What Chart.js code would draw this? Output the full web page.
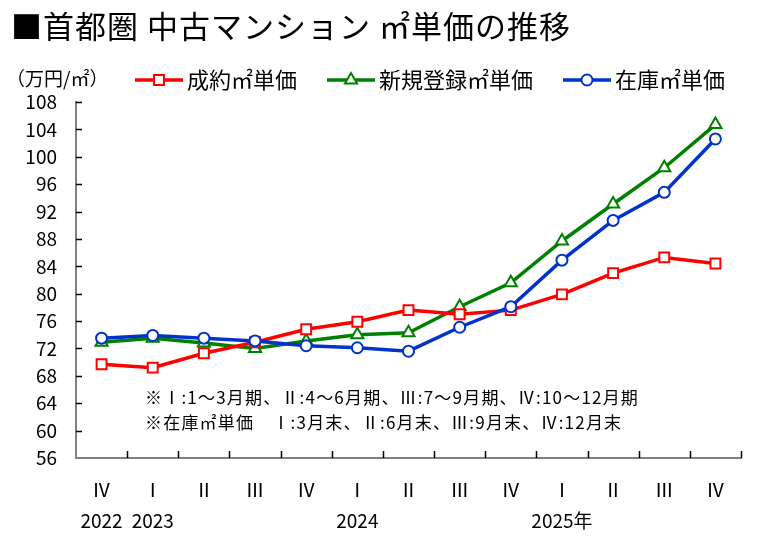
<!DOCTYPE html>
<html>
<head>
<meta charset="utf-8">
<script src="https://cdn.jsdelivr.net/npm/chart.js@4/dist/chart.umd.min.js"></script>
<style>
html,body{margin:0;padding:0;background:#fff;}
#wrap{width:762px;height:546px;}
</style>
</head>
<body>
<div id="wrap"><canvas id="c" width="762" height="546"></canvas></div>
<script>
const FONT = '"Noto Sans CJK JP", "Noto Sans", sans-serif';

const titleText = '■首都圏 中古マンション ㎡単価の推移';
const unitText = '（万円/㎡）';
const notes = [
  '※Ⅰ:1～3月期、Ⅱ:4～6月期、Ⅲ:7～9月期、Ⅳ:10～12月期',
  '※在庫㎡単価　Ⅰ:3月末、Ⅱ:6月末、Ⅲ:9月末、Ⅳ:12月末'
];

const quarters = ['Ⅳ','Ⅰ','Ⅱ','Ⅲ','Ⅳ','Ⅰ','Ⅱ','Ⅲ','Ⅳ','Ⅰ','Ⅱ','Ⅲ','Ⅳ'];
const years    = ['2022','2023','','','','2024','','','','2025年','','',''];

const seriesNames = ['成約㎡単価','新規登録㎡単価','在庫㎡単価'];
const contractPrice   = [69.7,69.2,71.3,72.9,74.8,75.9,77.6,77.0,77.6,79.9,83.0,85.3,84.4];
const newListingPrice = [72.9,73.5,72.8,72.0,73.1,74.0,74.3,78.1,81.6,87.7,93.1,98.4,104.7];
const inventoryPrice  = [73.5,73.9,73.5,73.1,72.4,72.1,71.6,75.1,78.1,84.9,90.7,94.8,102.6];

const yMin = 56, yMax = 108, yStep = 4;

const RED = '#ff0000', GREEN = '#008000', BLUE = '#0033cc';

const labels = quarters.map((q,i) => [q, years[i]]);

function makeDs(label, data, color, style, radius, order){
  return {
    label, data,
    borderColor: color,
    backgroundColor: '#ffffff',
    borderWidth: 3.5,
    pointStyle: style,
    pointRadius: radius,
    pointHoverRadius: radius,
    pointBorderWidth: 2,
    pointBorderColor: color,
    pointBackgroundColor: '#ffffff',
    tension: 0,
    order
  };
}

const decor = {
  id: 'decor',
  afterDraw(chart){
    const ctx = chart.ctx;
    const {left,right,top,bottom} = chart.chartArea;
    ctx.save();
    // inward ticks
    ctx.strokeStyle = '#000';
    ctx.lineWidth = 1.5;
    const ys = chart.scales.y;
    ys.ticks.forEach(t => {
      const py = Math.round(ys.getPixelForValue(t.value)) + 0.5;
      if (t.value === yMin) return;
      ctx.beginPath(); ctx.moveTo(left, py); ctx.lineTo(left + 6, py); ctx.stroke();
    });
    const n = chart.data.labels.length;
    const w = (right - left) / n;
    for (let i = 1; i <= n; i++){
      const px = Math.round(left + i*w) + 0.5;
      ctx.beginPath(); ctx.moveTo(px, bottom); ctx.lineTo(px, bottom - 7); ctx.stroke();
    }
    // title
    ctx.fillStyle = '#000';
    ctx.textBaseline = 'middle';
    ctx.textAlign = 'left';
    ctx.font = '31px ' + FONT;
    ctx.letterSpacing = '1px';
    ctx.fillText(titleText, 11, 26);
    ctx.letterSpacing = '0px';
    // unit
    ctx.font = '19px ' + FONT;
    ctx.fillText(unitText, 6, 79);
    // legend
    let x = 135;
    const ly = 80;
    ctx.font = '22px ' + FONT;
    chart.data.datasets.forEach((ds) => {
      ctx.strokeStyle = ds.borderColor;
      ctx.lineWidth = 3.5;
      ctx.beginPath(); ctx.moveTo(x, ly); ctx.lineTo(x + 48, ly); ctx.stroke();
      ctx.fillStyle = '#fff';
      ctx.strokeStyle = ds.borderColor;
      ctx.lineWidth = 2;
      Chart.helpers.drawPoint(ctx, {pointStyle: ds.pointStyle, radius: ds.pointRadius, borderWidth: 2}, x + 24, ly);
      ctx.fillStyle = '#000';
      ctx.fillText(ds.label, x + 52, ly);
      x += 52 + ctx.measureText(ds.label).width + 30;
    });
    // notes
    ctx.font = '17px ' + FONT;
    ctx.letterSpacing = '1.2px';
    ctx.fillStyle = '#000';
    ctx.fillText(notes[0], 145, 398);
    ctx.fillText(notes[1], 145, 423);
    ctx.letterSpacing = '0px';
    ctx.restore();
  }
};

new Chart(document.getElementById('c'), {
  type: 'line',
  data: {
    labels,
    datasets: [
      makeDs(seriesNames[0], contractPrice, RED, 'rect', 7, 2),
      makeDs(seriesNames[1], newListingPrice, GREEN, 'triangle', 7, 3),
      makeDs(seriesNames[2], inventoryPrice, BLUE, 'circle', 5.5, 1)
    ]
  },
  options: {
    responsive: false,
    animation: false,
    devicePixelRatio: 1,
    layout: { padding: { left: 0, right: 21, top: 102, bottom: 0 } },
    plugins: { legend: { display: false }, title: { display: false }, tooltip: { enabled: false } },
    scales: {
      x: {
        offset: true,
        grid: { display: true, drawOnChartArea: false, drawTicks: false, offset: true },
        border: { display: true, color: '#808080', width: 2 },
        ticks: {
          color: '#000', padding: 17, maxRotation: 0, autoSkip: false,
          font: { family: FONT, size: 19, lineHeight: 1.6 }
        },
        afterFit(scale){ scale.height = 88; }
      },
      y: {
        min: yMin, max: yMax,
        grid: { display: true, drawOnChartArea: false, drawTicks: false },
        border: { display: true, color: '#808080', width: 2 },
        ticks: {
          stepSize: yStep, color: '#000', padding: 19,
          font: { family: FONT, size: 19 }
        },
        afterFit(scale){ scale.width = 76; }
      }
    }
  },
  plugins: [decor]
});
</script>
</body>
</html>
